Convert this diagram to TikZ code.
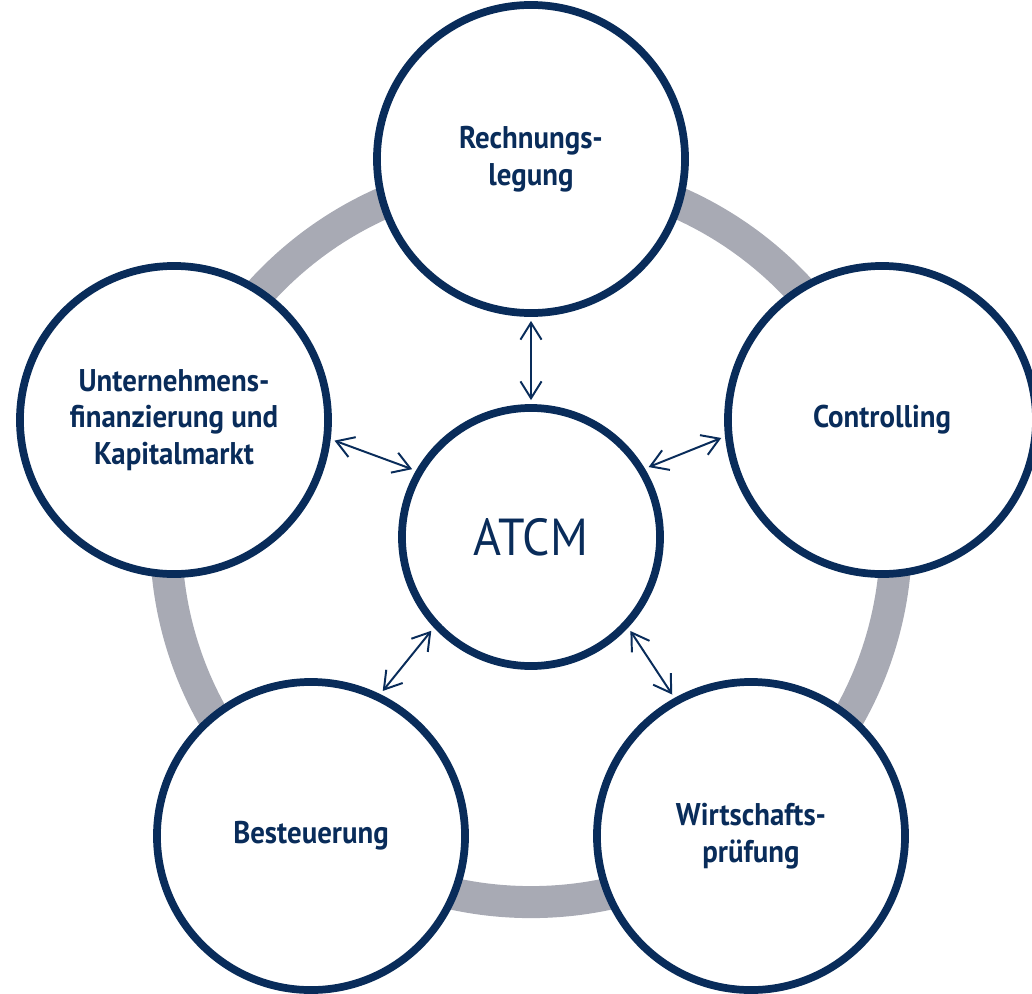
\documentclass[tikz,border=0pt]{standalone}
\usepackage{fontspec}
\newfontfamily\lblfont[FakeStretch=0.92]{PT Sans}
\usetikzlibrary{arrows.meta, positioning}
\definecolor{navy}{RGB}{9,44,90}
\definecolor{ringgray}{RGB}{168,170,180}

\begin{document}
\begin{tikzpicture}[
	x=0.025cm, y=-0.025cm,
	field/.style = {circle, draw=navy, line width=5.5pt, fill=white,
	                minimum size=7.7cm, inner sep=0pt, align=center,
	                text=navy, font=\lblfont\bfseries\fontsize{22.3}{26.2}\selectfont},
	hub/.style = {circle, draw=navy, line width=5.5pt, fill=white,
	              minimum size=6.45cm, inner sep=0pt,
	              text=navy, font=\lblfont\fontsize{37}{40}\selectfont},
	ring/.style = {draw=ringgray, line width=0.8cm},
	link/.style = {draw=navy, line width=1.4pt,
	               {Straight Barb[length=12pt, width=15pt]}-{Straight Barb[length=12pt, width=15pt]},
	               shorten <=0.1cm, shorten >=0.1cm}
     ]
		\useasboundingbox (0,0) rectangle (1032,993);
		\coordinate (ctr) at (531,537);
		\draw[ring] (ctr) circle[radius=9.125cm];
%
		\node[hub] (atcm) at (ctr) {ATCM};
		\node[field] (rl) at (531,159) {Rechnungs-\\legung};
		\node[field] (ctrl) at (882,420) {Controlling};
		\node[field] (wp) at (751,836) {Wirtschafts-\\prüfung};
		\node[field] (st) at (311,836) {Besteuerung};
		\node[field] (uf) at (174,420) {Unternehmens-\\finanzierung und\\Kapitalmarkt};
%
		\draw[link] (atcm.90) -- (rl.270);
		\draw[link] (atcm.31) -- (ctrl.186);
		\draw[link] (atcm.-43) -- (wp.119);
		\draw[link] (atcm.223) -- (st.64);
		\draw[link] (atcm.150) -- (uf.-7);
		
\end{tikzpicture}
\end{document}
